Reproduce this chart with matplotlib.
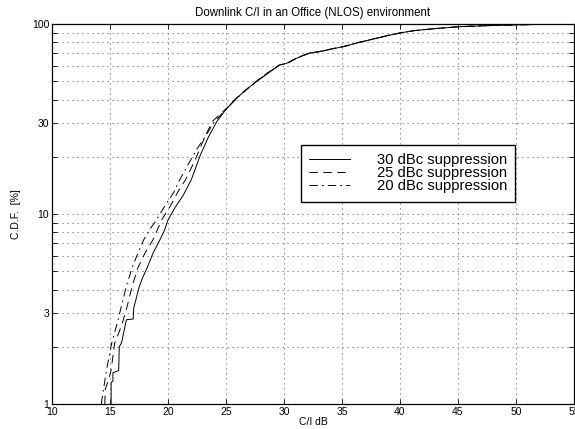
import numpy as np
import matplotlib
matplotlib.use("Agg")
import matplotlib.pyplot as plt
from matplotlib.ticker import FixedLocator, LogLocator, NullFormatter

plt.rcParams['font.family'] = ['Liberation Sans', 'DejaVu Sans']
plt.rcParams['lines.scale_dashes'] = False

# C/I (dB) vs C.D.F. (%)
ci_30 = [15.1, 15.1, 15.25, 15.25, 15.75, 15.8, 16.0, 16.4, 16.45, 17.0, 17.05, 17.5,
         17.8, 18.2, 18.7, 19.3, 19.7, 20.0, 20.6, 21.3, 22.0, 22.8, 23.5, 24.2, 25.0,
         25.9, 26.8, 27.8, 28.8, 29.6, 30.2, 31.2, 32.2, 33.1, 34.2, 35.1, 36.5, 38.0,
         39.0, 40.1, 41.2, 43.0, 45.2, 47.5, 50.0, 52.5, 55.0]
cdf_30 = [1.0, 1.3, 1.32, 1.46, 1.5, 2.0, 2.1, 2.75, 2.78, 2.8, 3.2, 4.1,
          4.6, 5.2, 6.2, 7.3, 8.2, 9.3, 10.8, 12.5, 15.1, 20.5, 25.5, 30.6, 35.5,
          40.5, 45.5, 50.6, 56.0, 60.8, 62.0, 66.5, 70.2, 71.5, 74.0, 76.0, 80.0, 84.1,
          87.0, 89.9, 92.2, 94.5, 96.8, 98.0, 98.9, 99.6, 100.0]

ci_25 = [14.55, 14.6, 14.9, 15.1, 15.4, 15.8, 16.15, 16.5, 16.9, 17.4, 18.0, 18.7,
         19.45, 20.2, 20.95, 21.5, 22.3, 23.0, 23.8, 25.0, 25.9, 26.9, 27.8, 28.8,
         29.6, 30.3, 31.2, 32.2, 33.1, 34.2, 35.2, 36.5, 38.0, 39.0, 40.1, 41.2, 43.0,
         45.2, 47.5, 50.0, 52.5, 55.0]
cdf_25 = [1.0, 1.2, 1.35, 1.51, 2.09, 2.4, 2.77, 3.3, 4.14, 5.2, 6.2, 7.3,
          9.3, 11.0, 13.4, 15.1, 19.0, 24.0, 30.6, 35.8, 40.8, 46.0, 51.0, 56.5,
          60.8, 62.3, 66.8, 70.4, 71.8, 74.2, 76.2, 80.2, 84.3, 87.2, 90.0, 92.3, 94.6,
          96.9, 98.0, 99.0, 99.6, 100.0]

ci_20 = [14.25, 14.4, 14.7, 15.15, 15.7, 16.0, 16.4, 16.9, 17.4, 17.9, 18.5, 19.0,
         19.8, 20.5, 21.0, 21.8, 22.5, 23.2, 23.9, 25.0, 25.9, 26.9, 27.8, 28.8,
         29.6, 30.3, 31.2, 32.2, 33.1, 34.2, 35.2, 36.5, 38.0, 39.0, 40.1, 41.2, 43.0,
         45.2, 47.5, 50.0, 52.5, 55.0]
cdf_20 = [1.0, 1.15, 1.51, 2.09, 2.77, 3.3, 4.14, 5.2, 6.2, 7.3, 8.4, 9.3,
          11.2, 13.0, 15.1, 18.5, 22.0, 25.5, 30.0, 35.6, 40.6, 45.8, 50.8, 56.3,
          60.6, 62.1, 66.6, 70.3, 71.6, 74.1, 76.1, 80.1, 84.2, 87.1, 89.9, 92.2, 94.5,
          96.8, 98.0, 98.9, 99.6, 100.0]

labels = ['30 dBc suppression', '25 dBc suppression', '20 dBc suppression']
x_ticks = [10, 15, 20, 25, 30, 35, 40, 45, 50, 55]
y_ticks = [1, 3, 10, 30, 100]

fig = plt.figure(figsize=(5.75, 4.29), dpi=100)
ax = fig.add_axes([0.0904, 0.0583, 0.9078, 0.8858])

ax.plot(ci_30, cdf_30, color='black', lw=0.7, ls='-', label=labels[0])
ax.plot(ci_25, cdf_25, color='black', lw=0.7, ls=(0, (6, 4)), label=labels[1])
ax.plot(ci_20, cdf_20, color='black', lw=0.7, ls=(0, (6, 3, 1.2, 3)), label=labels[2])

ax.set_yscale('log')
ax.set_xlim(10, 55)
ax.set_ylim(1, 100)
ax.xaxis.set_major_locator(FixedLocator(x_ticks))
ax.yaxis.set_major_locator(FixedLocator(y_ticks))
ax.set_yticklabels([str(t) for t in y_ticks])
ax.yaxis.set_minor_locator(LogLocator(base=10, subs=np.arange(1, 10)))
ax.yaxis.set_minor_formatter(NullFormatter())

ax.tick_params(which='both', direction='in', top=True, right=True,
               length=3.5, width=0.6, labelsize=7.5, pad=2)
grid_style = dict(ls=(0, (0.8, 2.8)), color='0.3', lw=0.6)
ax.grid(True, which='major', axis='x', **grid_style)
ax.grid(True, which='both', axis='y', **grid_style)
for s in ax.spines.values():
    s.set_linewidth(0.9)

ax.set_title('Downlink C/I in an Office (NLOS) environment', fontsize=8.3, pad=6)
ax.set_xlabel('C/I dB', fontsize=7.5, labelpad=0)
ax.set_ylabel('C.D.F.  [%]', fontsize=7.5, labelpad=8)

leg = ax.legend(loc='upper left', bbox_to_anchor=(0.477, 0.682), fontsize=10.6,
                frameon=True, fancybox=False, handlelength=2.8, handletextpad=1.8,
                labelspacing=-0.05, borderpad=0.55, borderaxespad=0)
leg.get_frame().set_edgecolor('black')
leg.get_frame().set_linewidth(1.0)
leg.get_frame().set_alpha(1)

fig.savefig('out.png', dpi=100)
